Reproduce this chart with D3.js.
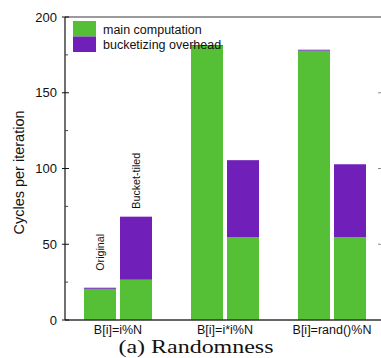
<!DOCTYPE html>
<html>
<head>
<meta charset="utf-8">
<script src="https://cdn.jsdelivr.net/npm/d3@7"></script>
<style>
  html, body { margin: 0; padding: 0; background: #fff; }
  svg { display: block; }
  text { font-family: "Liberation Sans", Arial, Helvetica, sans-serif; fill: #111; }
</style>
</head>
<body>
<svg id="chart" width="381" height="358"></svg>
<script>
// Access patterns and the two code variants compared for each
const groups = ["B[i]=i%N", "B[i]=i*i%N", "B[i]=rand()%N"];
const variants = ["Original", "Bucket-tiled"];

// Cycles per iteration, split into the two stacked components
const mainOriginal     = [20.6, 181.0, 177.8];
const overheadOriginal = [0.7, 0.5, 0.6];
const mainBucket       = [26.6, 54.6, 54.6];
const overheadBucket   = [41.6, 50.9, 48.2];

const seriesNames = ["main computation", "bucketizing overhead"];
const seriesColors = ["#55c035", "#7020b8"];
const yTicks = [0, 50, 100, 150, 200];
const yMinorTicks = [25, 75, 125, 175];

const svg = d3.select("#chart");
const plot = { left: 65, right: 381, top: 17, bottom: 320 };

const y = d3.scaleLinear().domain([0, 200]).range([plot.bottom, plot.top]);
const xGroup = d3.scalePoint().domain(groups).range([118, 332]);
const xVariant = d3.scaleBand().domain(variants).range([-34, 34]).paddingInner(4 / 36);
const color = d3.scaleOrdinal().domain(seriesNames).range(seriesColors);

// Flatten into stacked segments
const rows = [];
groups.forEach((g, i) => {
  [[mainOriginal, overheadOriginal], [mainBucket, overheadBucket]].forEach(([m, o], v) => {
    rows.push({ group: g, variant: variants[v], "main computation": m[i], "bucketizing overhead": o[i] });
  });
});
const stacked = d3.stack().keys(seriesNames)(rows);

const barLayer = svg.append("g");
stacked.forEach(layer => {
  barLayer.selectAll(null)
    .data(layer)
    .join("rect")
    .attr("x", d => xGroup(d.data.group) + xVariant(d.data.variant))
    .attr("width", xVariant.bandwidth())
    .attr("y", d => y(d[1]))
    .attr("height", d => y(d[0]) - y(d[1]))
    .attr("fill", color(layer.key));
});

// Variant annotations above the first group's bars
const firstGroup = rows.filter(r => r.group === groups[0]);
const labelGap = { "Original": 17, "Bucket-tiled": 8 };
svg.append("g").selectAll("text")
  .data(firstGroup)
  .join("text")
  .attr("transform", d => {
    const cx = xGroup(d.group) + xVariant(d.variant) + xVariant.bandwidth() / 2 + 4;
    const top = y(d["main computation"] + d["bucketizing overhead"]) - labelGap[d.variant];
    return `translate(${cx},${top}) rotate(-90)`;
  })
  .attr("font-size", "10.7px")
  .text(d => d.variant);

// Frame: gray top edge, black left and bottom axes
svg.append("line")
  .attr("x1", plot.left).attr("x2", plot.right)
  .attr("y1", plot.top).attr("y2", plot.top)
  .attr("stroke", "#7a7a7a").attr("stroke-width", 1.5);
svg.append("line")
  .attr("x1", plot.left).attr("x2", plot.left)
  .attr("y1", plot.top).attr("y2", plot.bottom)
  .attr("stroke", "#111").attr("stroke-width", 1.2);
svg.append("line")
  .attr("x1", plot.left).attr("x2", plot.right)
  .attr("y1", plot.bottom).attr("y2", plot.bottom)
  .attr("stroke", "#333").attr("stroke-width", 1.5);

// Left axis ticks and labels
const yAxis = svg.append("g");
yAxis.selectAll("line.major")
  .data(yTicks)
  .join("line")
  .attr("x1", plot.left - 3).attr("x2", plot.left + 4)
  .attr("y1", d => y(d)).attr("y2", d => y(d))
  .attr("stroke", "#111");
yAxis.selectAll("line.minor")
  .data(yMinorTicks)
  .join("line")
  .attr("x1", plot.left).attr("x2", plot.left + 3)
  .attr("y1", d => y(d)).attr("y2", d => y(d))
  .attr("stroke", "#444");
yAxis.selectAll("text")
  .data(yTicks)
  .join("text")
  .attr("x", plot.left - 8)
  .attr("y", d => y(d))
  .attr("dy", "0.35em")
  .attr("text-anchor", "end")
  .attr("font-size", "13px")
  .text(d => d);

// Right-side ticks
svg.append("g").selectAll("line")
  .data(yTicks.slice(1, -1))
  .join("line")
  .attr("x1", plot.right - 3).attr("x2", plot.right)
  .attr("y1", d => y(d)).attr("y2", d => y(d))
  .attr("stroke", "#888");

// Category labels
svg.append("g").selectAll("text")
  .data(groups)
  .join("text")
  .attr("x", d => xGroup(d))
  .attr("y", 334)
  .attr("text-anchor", "middle")
  .attr("font-size", "12.5px")
  .text(d => d);

// Y axis title
svg.append("text")
  .attr("transform", `translate(24,${(plot.top + plot.bottom) / 2 + 4}) rotate(-90)`)
  .attr("text-anchor", "middle")
  .attr("font-size", "14.5px")
  .text("Cycles per iteration");

// Legend
const legend = svg.append("g");
seriesNames.forEach((name, i) => {
  legend.append("rect")
    .attr("x", 73).attr("y", 21 + i * 15.5)
    .attr("width", 23).attr("height", 15.5)
    .attr("fill", color(name));
  legend.append("text")
    .attr("x", 103).attr("y", 34 + i * 15)
    .attr("font-size", "12.5px")
    .text(name);
});

// Caption
svg.append("text")
  .attr("x", 196).attr("y", 353)
  .attr("text-anchor", "middle")
  .attr("font-size", "19px")
  .attr("textLength", 155)
  .attr("lengthAdjust", "spacingAndGlyphs")
  .style("font-family", "'Liberation Serif', 'Times New Roman', serif")
  .text("(a) Randomness");
</script>
</body>
</html>
